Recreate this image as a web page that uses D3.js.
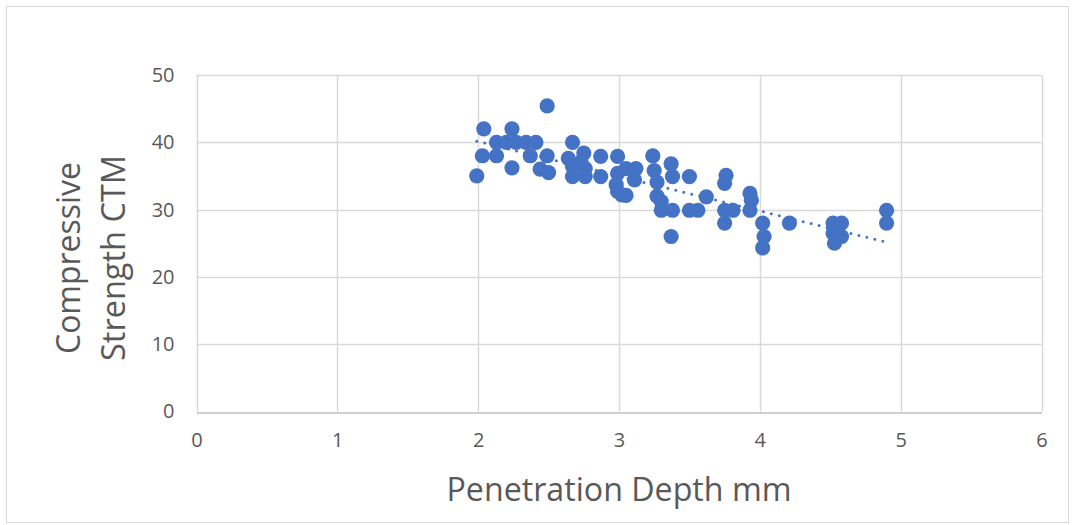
<!DOCTYPE html>
<html>
<head>
<meta charset="utf-8">
<script src="https://cdn.jsdelivr.net/npm/d3@7"></script>
<style>
  html, body { margin: 0; padding: 0; background: #fff; }
  svg { display: block; }
  text { font-family: "Open Sans", "Noto Sans", sans-serif; fill: #595959; }
</style>
</head>
<body>
<svg id="chart" width="1073" height="525"></svg>
<script>
// ---- data ----
const depth = [
  1.99, 2.04, 2.24, 2.03, 2.13, 2.13, 2.20, 2.27, 2.34, 2.41,
  2.37, 2.49, 2.24, 2.44, 2.50, 2.49, 2.67, 2.75, 2.64, 2.73,
  2.67, 2.76, 2.67, 2.76, 2.87, 2.87, 2.99, 2.99, 3.05, 3.12,
  3.11, 3.02, 2.98, 2.99, 3.05, 3.24, 3.25, 3.27, 3.27, 3.30,
  3.30, 3.38, 3.37, 3.38, 3.50, 3.50, 3.56, 3.62, 3.37, 3.76,
  3.75, 3.75, 3.81, 3.75, 3.93, 3.94, 3.93, 4.02, 4.03, 4.02,
  4.21, 4.52, 4.58, 4.52, 4.58, 4.53, 4.90, 4.90
];
const strength = [
  35.0, 42.0, 42.0, 38.0, 38.0, 40.0, 40.0, 40.0, 40.0, 40.0,
  38.0, 38.0, 36.2, 36.0, 35.5, 45.4, 40.0, 38.4, 37.6, 37.1,
  36.4, 36.1, 34.9, 34.9, 37.9, 34.9, 37.9, 35.4, 36.1, 36.1,
  34.4, 32.2, 33.7, 32.7, 32.1, 38.0, 35.8, 34.1, 32.0, 31.2,
  29.9, 29.9, 36.8, 34.9, 34.9, 29.9, 29.9, 31.9, 26.0, 35.1,
  33.9, 29.9, 29.9, 28.0, 32.4, 31.4, 29.9, 28.0, 26.0, 24.3,
  28.0, 28.0, 28.0, 26.5, 26.0, 25.0, 29.9, 28.0
];
const xTicks = [0, 1, 2, 3, 4, 5, 6];
const yTicks = [0, 10, 20, 30, 40, 50];
const xTitle = "Penetration Depth mm";
const yTitleLines = ["Compressive", "Strength CTM"];

// ---- layout ----
const svg = d3.select("#chart");
const plot = { left: 196.5, right: 1041.5, top: 75, bottom: 411.5 };

// chart border
svg.append("rect")
  .attr("x", 6.5).attr("y", 6.5)
  .attr("width", 1062).attr("height", 516)
  .attr("fill", "#fff").attr("stroke", "#d9d9d9").attr("stroke-width", 1);

const x = d3.scaleLinear().domain([0, 6]).range([plot.left, plot.right]);
const y = d3.scaleLinear().domain([0, 50]).range([plot.bottom, plot.top]);

// gridlines
const grid = svg.append("g");
grid.selectAll("line.h").data(yTicks.filter(d => d > 0)).join("line")
  .attr("x1", plot.left).attr("x2", plot.right)
  .attr("y1", d => Math.round(y(d)) + 0.5).attr("y2", d => Math.round(y(d)) + 0.5)
  .attr("stroke", "#d9d9d9").attr("stroke-width", 1.5);
grid.selectAll("line.v").data(xTicks).join("line")
  .attr("x1", d => Math.round(x(d)) + 0.5).attr("x2", d => Math.round(x(d)) + 0.5)
  .attr("y1", plot.top).attr("y2", plot.bottom)
  .attr("stroke", "#d9d9d9").attr("stroke-width", 1.5);

// x axis
const xAxis = svg.append("g")
  .attr("transform", `translate(0,${Math.round(plot.bottom) + 0.5})`)
  .call(d3.axisBottom(x).tickValues(xTicks).tickSize(0).tickPadding(20).tickFormat(d3.format("d")));
xAxis.select(".domain").attr("stroke", "#bfbfbf").attr("stroke-width", 1.5);
xAxis.selectAll("text").style("font-size", "20px").attr("fill", "#595959")
  .style("font-family", "'Open Sans', sans-serif");

// y axis
const yAxis = svg.append("g")
  .attr("transform", `translate(${plot.left},0)`)
  .call(d3.axisLeft(y).tickValues(yTicks).tickSize(0).tickPadding(22).tickFormat(d3.format("d")));
yAxis.select(".domain").remove();
yAxis.selectAll("text").style("font-size", "20px").attr("fill", "#595959")
  .style("font-family", "'Open Sans', sans-serif");

// titles
svg.append("text")
  .attr("x", (plot.left + plot.right) / 2).attr("y", 501)
  .attr("text-anchor", "middle")
  .style("font-size", "32px")
  .attr("textLength", 345).attr("lengthAdjust", "spacingAndGlyphs")
  .text(xTitle);

const yt = svg.append("g").attr("transform", "translate(0,258) rotate(-90)");
yt.selectAll("text").data(yTitleLines).join("text")
  .attr("x", 0).attr("y", (d, i) => 80 + i * 45)
  .attr("text-anchor", "middle")
  .style("font-size", "32px")
  .attr("textLength", (d, i) => i === 0 ? 192 : 206)
  .attr("lengthAdjust", "spacingAndGlyphs")
  .text(d => d);

// data
const pts = depth.map((d, i) => ({ x: d, y: strength[i] }));

// linear trendline (least squares)
const mx = d3.mean(pts, p => p.x), my = d3.mean(pts, p => p.y);
const slope = d3.sum(pts, p => (p.x - mx) * (p.y - my)) / d3.sum(pts, p => (p.x - mx) ** 2);
const icpt = my - slope * mx;
const [xmin, xmax] = d3.extent(pts, p => p.x);
const trend = [{ x: xmin, y: icpt + slope * xmin }, { x: xmax, y: icpt + slope * xmax }];

svg.append("g").selectAll("circle").data(pts).join("circle")
  .attr("cx", p => x(p.x)).attr("cy", p => y(p.y)).attr("r", 7.6)
  .attr("fill", "#4472c4");

svg.append("path")
  .datum(trend)
  .attr("d", d3.line().x(p => x(p.x)).y(p => y(p.y)))
  .attr("fill", "none").attr("stroke", "#4472c4")
  .attr("stroke-width", 3).attr("stroke-linecap", "round")
  .attr("stroke-dasharray", "0 8.2");
</script>
</body>
</html>
